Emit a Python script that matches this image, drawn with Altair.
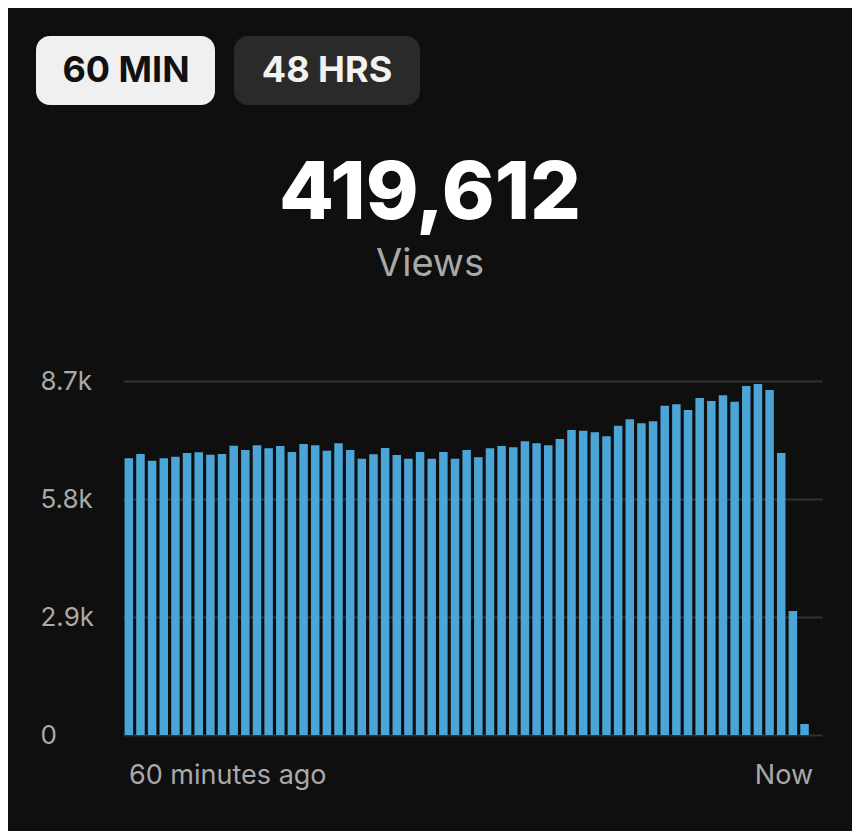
import altair as alt
import pandas as pd

# ---- data ----
minutes = list(range(1, 61))
views = [6800, 6906, 6741, 6800, 6840, 6930, 6947, 6889, 6906, 7110,
         7004, 7119, 7045, 7102, 6955, 7152, 7119, 6987, 7168, 7004,
         6791, 6898, 7053, 6881, 6791, 6955, 6791, 6955, 6791, 7004,
         6824, 7045, 7102, 7070, 7217, 7168, 7119, 7274, 7496, 7479,
         7439, 7341, 7601, 7759, 7660, 7709, 8093, 8127, 7987, 8282,
         8208, 8348, 8191, 8577, 8626, 8479, 6930, 3047, 270, 0]
y_ticks = [0, 2900, 5800, 8700]
buttons = ["60 MIN", "48 HRS"]
headline = "419,612"
subtitle = "Views"
x_start_label = "60 minutes ago"
x_end_label = "Now"

FONT = "Inter"
BG = "#0f0f0f"
GRAY = "#a9a9a9"

df = pd.DataFrame({"minute": minutes, "views": views})

bars = alt.Chart(df).mark_bar(color="#4ba6d7").encode(
    x=alt.X("minute:O", axis=None,
            scale=alt.Scale(paddingInner=0.27, paddingOuter=0.135)),
    y=alt.Y("views:Q",
            scale=alt.Scale(domain=[0, 8700], nice=False),
            axis=alt.Axis(values=y_ticks, title=None, ticks=False, domain=False,
                          grid=True, gridColor="#333333", gridWidth=2,
                          labelAlign="left", labelPadding=83, labelBaseline="middle",
                          labelFont=FONT, labelFontSize=26, labelColor=GRAY,
                          labelExpr="datum.value == 0 ? '0' : format(datum.value / 1000, '.1f') + 'k'")),
)

one = pd.DataFrame({"a": [0]})

btn1 = alt.Chart(one).mark_rect(color="#f0f0f0", cornerRadius=14).encode(
    x=alt.value(-87), x2=alt.value(92), y=alt.value(-345), y2=alt.value(-276))
btn2 = alt.Chart(one).mark_rect(color="#2a2a2a", cornerRadius=14).encode(
    x=alt.value(111), x2=alt.value(297), y=alt.value(-345), y2=alt.value(-276))

btn1_text = alt.Chart(pd.DataFrame({"t": [buttons[0]]})).mark_text(
    font=FONT, fontSize=36, fontWeight="bold", color="#111111",
    align="center", baseline="middle").encode(
    text="t:N", x=alt.value(3), y=alt.value(-310))
btn2_text = alt.Chart(pd.DataFrame({"t": [buttons[1]]})).mark_text(
    font=FONT, fontSize=36, fontWeight="bold", color="#f2f2f2",
    align="center", baseline="middle").encode(
    text="t:N", x=alt.value(204), y=alt.value(-310))

head = alt.Chart(pd.DataFrame({"t": [headline]})).mark_text(
    font=FONT, fontSize=80, fontWeight=800, color="#ffffff",
    align="center", baseline="middle").encode(
    text="t:N", x=alt.value(307), y=alt.value(-186))
sub = alt.Chart(pd.DataFrame({"t": [subtitle]})).mark_text(
    font=FONT, fontSize=38, color=GRAY,
    align="center", baseline="middle").encode(
    text="t:N", x=alt.value(307), y=alt.value(-116))

xl = alt.Chart(pd.DataFrame({"t": [x_start_label]})).mark_text(
    font=FONT, fontSize=27, color=GRAY, align="left", baseline="middle").encode(
    text="t:N", x=alt.value(6), y=alt.value(395))
xr = alt.Chart(pd.DataFrame({"t": [x_end_label]})).mark_text(
    font=FONT, fontSize=27, color=GRAY, align="right", baseline="middle").encode(
    text="t:N", x=alt.value(690), y=alt.value(395))

chart = alt.layer(bars, btn1, btn2, btn1_text, btn2_text, head, sub, xl, xr).properties(
    width=699, height=354,
    background=BG,
    autosize=alt.AutoSizeParams(type="none"),
    padding={"left": 115, "top": 373, "right": 30, "bottom": 96},
).configure_view(stroke=None)

chart.save("out.html", embed_options={"renderer": "svg", "actions": False})
